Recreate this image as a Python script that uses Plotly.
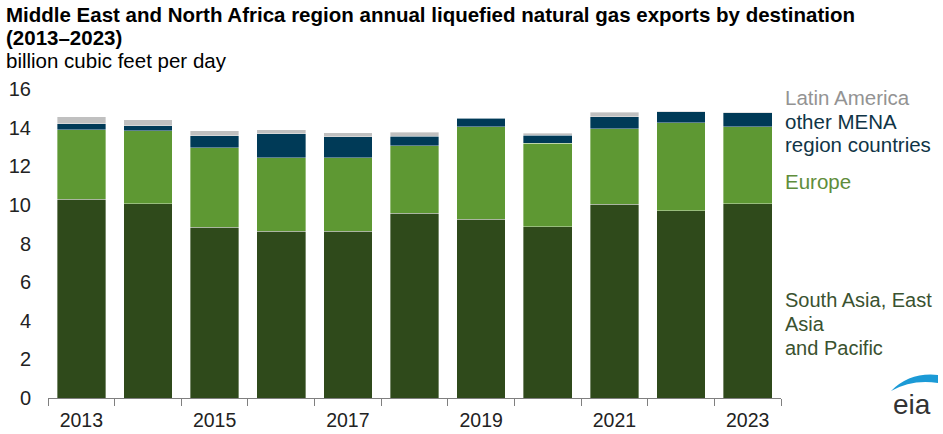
import plotly.graph_objects as go

years = list(range(2013, 2024))
south_asia = [10.28, 10.07, 8.83, 8.63, 8.63, 9.56, 9.25, 8.88, 10.02, 9.70, 10.07]
europe = [3.60, 3.76, 4.12, 3.81, 3.81, 3.51, 4.79, 4.31, 3.91, 4.55, 3.98]
other_mena = [0.33, 0.26, 0.62, 1.25, 1.08, 0.49, 0.45, 0.42, 0.63, 0.56, 0.73]
latin_america = [0.36, 0.31, 0.28, 0.21, 0.22, 0.20, 0.02, 0.10, 0.24, 0.04, 0.02]
year_labels = [2013, 2015, 2017, 2019, 2021, 2023]

FONT = "Liberation Sans, Arial, sans-serif"

# plot area in pixels (943x434 window)
L, R, T, B = 48, 162, 89, 36
PW, PH = 943 - L - R, 434 - T - B


def px(x):
    return (x - L) / PW


def py(y):
    return (434 - B - y) / PH


series = [
    ("South Asia, East Asia and Pacific", south_asia, "#2f4a1b"),
    ("Europe", europe, "#5e9833"),
    ("other MENA region countries", other_mena, "#003a57"),
    ("Latin America", latin_america, "#c0c0c0"),
]

fig = go.Figure()
for name, vals, color in series:
    fig.add_trace(go.Bar(
        x=years, y=vals, name=name, width=0.73,
        marker=dict(color=color, line=dict(width=0.8, color="rgba(255,255,255,0.45)")),
        hoverinfo="x+y+name",
    ))

fig.update_layout(
    barmode="stack",
    width=943, height=434,
    margin=dict(l=L, r=R, t=T, b=B),
    plot_bgcolor="white", paper_bgcolor="white",
    showlegend=False,
    font=dict(family=FONT, size=20, color="#333333"),
    xaxis=dict(
        range=[years[0] - 0.5, years[-1] + 0.5], automargin=False,
        tickvals=year_labels, ticks="", showgrid=False, zeroline=False,
        showline=True, linecolor="#7f7f7f", linewidth=1,
        tickfont=dict(size=19.5, color="#222222"), ticklabelstandoff=5,
        minor=dict(tickvals=[y - 0.5 for y in years] + [years[-1] + 0.5],
                   ticks="outside", ticklen=7, tickcolor="#7f7f7f", showgrid=False),
    ),
    yaxis=dict(
        range=[0, 16], dtick=2, showgrid=False, zeroline=False, showline=False,
        automargin=False,
        tickfont=dict(size=20, color="#222222"), ticklabelstandoff=16,
    ),
)

# (text, x px, y px, size, color, bold)
labels = [
    ("Middle East and North Africa region annual liquefied natural gas exports by destination", 4, 14, 20.5, "#000000", True),
    ("(2013\u20132023)", 4, 37, 20.5, "#000000", True),
    ("billion cubic feet per day", 4, 61, 20.5, "#000000", False),
    ("Latin America", 783, 97, 20.5, "#939393", False),
    ("other MENA", 783, 121, 20.5, "#0f3446", False),
    ("region countries", 783, 144, 20.5, "#0f3446", False),
    ("Europe", 783, 181, 20.5, "#5f8d3b", False),
    ("South Asia, East", 783, 300, 20, "#3a5230", False),
    ("Asia", 783, 324, 20, "#3a5230", False),
    ("and Pacific", 783, 348, 20, "#3a5230", False),
]
for text, x, y, size, color, bold in labels:
    fig.add_annotation(
        x=px(x), y=py(y), xref="paper", yref="paper", showarrow=False,
        text=f"<b>{text}</b>" if bold else text,
        xanchor="left", yanchor="middle", align="left",
        font=dict(size=size, color=color),
    )

# eia logo
fig.add_annotation(x=px(912), y=py(404), xref="paper", yref="paper", showarrow=False,
                   text="eia", xanchor="center", yanchor="middle",
                   font=dict(size=28, color="#333333"))
arc = (f"M {px(891)} {py(391)} Q {px(910)} {py(372)} {px(938)} {py(375)} "
       f"L {px(938)} {py(383)} Q {px(912)} {py(379)} {px(891)} {py(391)} Z")
fig.add_shape(type="path", path=arc, xref="paper", yref="paper",
              fillcolor="#1b9ad6", line=dict(width=0))

fig.write_html("out.html", config={"displayModeBar": False},
               post_script="document.body.style.margin='0';")
